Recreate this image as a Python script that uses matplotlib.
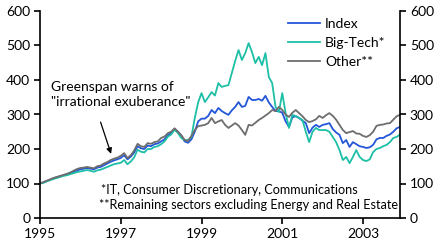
import numpy as np
import pandas as pd
import matplotlib
matplotlib.use("Agg")
import matplotlib.pyplot as plt

plt.rcParams['font.family'] = ['Lato', 'DejaVu Sans']

# monthly index levels, Jan 1995 = 100, Jan 1995 .. Dec 2003
dates = pd.date_range("1995-01-01", "2003-12-01", freq="MS")

index_vals = [
    100, 103, 107, 111, 115, 118, 121, 124, 127, 130, 134, 138,
    141, 143, 145, 143, 141, 146, 148, 153, 158, 163, 167, 170,
    174, 182, 170, 178, 190, 208, 202, 200, 210, 208, 214, 216,
    222, 228, 240, 246, 258, 250, 238, 222, 218, 228, 250, 280,
    288, 288, 296, 313, 304, 319, 310, 304, 299, 312, 322, 336,
    322, 325, 351, 342, 342, 345, 340, 354, 335, 322, 310, 310,
    305, 280, 264, 292, 295, 290, 282, 275, 246, 262, 270, 264,
    270, 272, 275, 258, 248, 241, 217, 226, 206, 220, 214, 208,
    206, 203, 205, 212, 228, 232, 232, 238, 242, 250, 260, 264,
]
bigtech_vals = [
    100, 102, 106, 110, 113, 116, 119, 122, 124, 127, 130, 133,
    135, 137, 139, 137, 134, 138, 140, 144, 148, 152, 156, 158,
    160, 168, 156, 164, 176, 198, 192, 190, 200, 200, 206, 208,
    214, 222, 236, 242, 256, 246, 232, 226, 226, 235, 290, 335,
    362, 336, 350, 365, 355, 391, 380, 383, 385, 420, 455, 487,
    458, 478, 507, 481, 449, 467, 443, 478, 409, 391, 322, 307,
    362, 304, 261, 299, 295, 290, 284, 250, 220, 250, 261, 255,
    255, 255, 250, 235, 220, 197, 168, 177, 159, 177, 197, 177,
    168, 165, 170, 191, 200, 203, 208, 212, 220, 232, 235, 242,
]
other_vals = [
    100, 104, 108, 112, 116, 119, 122, 125, 128, 132, 137, 142,
    145, 146, 148, 146, 144, 150, 152, 158, 162, 168, 172, 175,
    180, 188, 174, 182, 196, 215, 208, 206, 217, 215, 220, 222,
    232, 236, 246, 250, 260, 250, 240, 226, 223, 238, 255, 266,
    268, 270, 275, 290, 275, 280, 284, 270, 261, 268, 275, 268,
    255, 241, 270, 268, 276, 284, 290, 297, 304, 313, 310, 322,
    313, 300, 293, 305, 313, 304, 295, 284, 278, 281, 286, 296,
    290, 298, 304, 296, 285, 270, 255, 246, 249, 252, 245, 244,
    238, 235, 240, 250, 267, 270, 271, 274, 275, 285, 295, 299,
]

series_names = ["Index", "Big-Tech*", "Other**"]
colors = ["#2356d9", "#1dbfa6", "#6d6d6d"]

yticks = [0, 100, 200, 300, 400, 500, 600]
xtick_years = [1995, 1997, 1999, 2001, 2003]

x = dates.year + (dates.month - 1) / 12.0

fig = plt.figure(figsize=(4.43, 2.5), dpi=100)
ax = fig.add_axes([0.0903, 0.128, 0.8127, 0.828])

for vals, name, c in zip([index_vals, bigtech_vals, other_vals], series_names, colors):
    ax.plot(x, vals, color=c, lw=1.3, label=name)

ax.set_xlim(1995, x[-1])
ax.set_ylim(0, 600)
ax.set_yticks(yticks)
ax.set_xticks(xtick_years)
ax.set_xticklabels([str(y) for y in xtick_years])

ax.spines['top'].set_visible(False)
for s in ['left', 'right', 'bottom']:
    ax.spines[s].set_linewidth(1.2)
ax.tick_params(axis='both', direction='out', length=4, width=1.2, labelsize=10, pad=3)
ax.tick_params(axis='y', right=True, labelright=True)

ax.legend(loc='upper left', bbox_to_anchor=(0.655, 1.025), frameon=False,
          fontsize=10, handlelength=2.3, handletextpad=0.35, labelspacing=0.5)

# annotation text and its arrow
ax.text(1995.28, 398, 'Greenspan warns of\n"irrational exuberance"', fontsize=10,
        ha='left', va='top', linespacing=1.3)
ax.annotate('', xy=(1996.76, 186), xytext=(1996.5, 278),
            arrowprops=dict(arrowstyle='-|>', color='black', lw=0.9, mutation_scale=8,
                            shrinkA=0, shrinkB=0))

ax.text(1996.5, 82, "*IT, Consumer Discretionary, Communications", fontsize=9.1, va='center')
ax.text(1996.45, 38, "**Remaining sectors excluding Energy and Real Estate", fontsize=9.1, va='center')

fig.savefig("out.png", dpi=100)
